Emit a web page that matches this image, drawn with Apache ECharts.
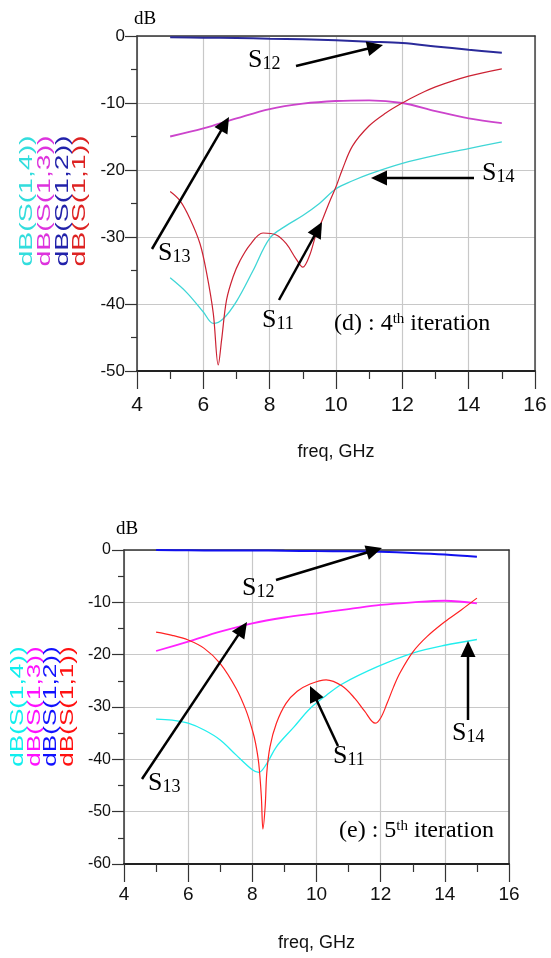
<!DOCTYPE html>
<html>
<head>
<meta charset="utf-8">
<script src="https://cdn.jsdelivr.net/npm/echarts@6/dist/echarts.min.js"></script>
<style>html,body{margin:0;padding:0;background:#fff}#c{width:551px;height:958px}</style>
</head>
<body>
<div id="c"></div>
<script>
// ---------- DATA ----------
const xTicks = [4, 6, 8, 10, 12, 14, 16];
const legendLabels = ['dB(S(1,4))', 'dB(S(1,3))', 'dB(S(1,2))', 'dB(S(1,1))'];

// (d) 4th iteration
const dS12f = [5, 6, 7, 8, 9, 10, 11, 12, 13, 14, 15];
const dS12v = [-0.2, -0.25, -0.3, -0.4, -0.5, -0.65, -0.85, -1.05, -1.55, -2.05, -2.5];
const dS13f = [5, 6, 7, 8, 9, 10, 11, 12, 13, 14, 15];
const dS13v = [-15.0, -13.8, -12.3, -10.9, -10.1, -9.7, -9.6, -10.0, -11.2, -12.3, -13.0];
const dS14f = [5, 5.5, 6, 6.3, 6.6, 7, 7.5, 8, 8.5, 9, 9.5, 10, 10.5, 11, 12, 13, 14, 15];
const dS14v = [-36.1, -38.3, -41.2, -42.9, -42.2, -39.6, -35.0, -30.2, -28.3, -26.8, -25.0, -22.8, -21.6, -20.6, -19.0, -17.8, -16.8, -15.8];
const dS11f = [5, 5.3, 5.6, 5.9, 6.1, 6.3, 6.45, 6.55, 6.7, 6.9, 7.1, 7.4, 7.8, 8.2, 8.5, 8.8, 9.0, 9.2, 9.4, 9.6, 9.8, 10.0, 10.2, 10.5, 11.0, 11.5, 12.0, 12.5, 13, 14, 15];
const dS11v = [-23.2, -24.6, -27.3, -31.0, -35.4, -41.4, -49.1, -45.4, -39.4, -35.9, -33.6, -31.2, -29.4, -29.7, -31.0, -33.3, -34.5, -32.8, -29.6, -27.3, -24.8, -22.5, -19.8, -16.4, -13.4, -11.5, -10.0, -8.7, -7.6, -6.0, -4.9];

// (e) 5th iteration
const eS12f = [5, 6, 7, 8, 9, 10, 11, 12, 13, 14, 15];
const eS12v = [0, -0.05, -0.1, -0.1, -0.15, -0.2, -0.25, -0.35, -0.55, -0.85, -1.3];
const eS13f = [5, 6, 7, 8, 9, 10, 11, 12, 13, 14, 15];
const eS13v = [-19.3, -17.5, -15.6, -14.0, -12.9, -12.1, -11.3, -10.5, -10.0, -9.7, -10.2];
const eS14f = [5, 5.5, 6, 6.5, 7, 7.5, 8, 8.2, 8.45, 8.75, 9.3, 9.8, 10.3, 10.8, 11.9, 13, 14, 15];
const eS14v = [-32.3, -32.5, -33.1, -34.4, -36.3, -39.2, -42.0, -42.5, -40.8, -37.6, -33.8, -30.3, -27.8, -25.6, -22.3, -19.7, -18.2, -17.1];
const eS11f = [5, 5.5, 6, 6.5, 7, 7.5, 7.8, 8.0, 8.1, 8.2, 8.28, 8.33, 8.4, 8.45, 8.55, 8.75, 9.05, 9.4, 9.8, 10.3, 10.8, 11.2, 11.5, 11.83, 12.0, 12.2, 12.4, 12.6, 13, 13.45, 14, 14.5, 15];
const eS11v = [-15.7, -16.3, -17.2, -18.8, -21.7, -26.5, -30.6, -34.4, -36.9, -40.8, -47.0, -53.3, -49.0, -42.6, -37.6, -33.1, -29.3, -27.0, -25.6, -24.8, -26.0, -28.4, -30.8, -33.1, -32.1, -29.3, -26.2, -23.5, -19.5, -16.5, -13.7, -11.5, -9.2];

// ---------- STYLE ----------
const colD = {s14: '#3fd6d6', s13: '#cc44cc', s12: '#2a2a9a', s11: '#cc2233'};
const colE = {s14: '#22eeee', s13: '#ff22ff', s12: '#1111ee', s11: '#ff2222'};
const legColD = ['#33dddd', '#dd33dd', '#2222aa', '#dd2222'];
const legColE = ['#11eeee', '#ff11ff', '#1111ff', '#ff1111'];
const sans = "'Liberation Sans',Arial,sans-serif";
const serif = "'Liberation Serif','Times New Roman',serif";

function pairs(f, v) { return f.map((x, i) => [x, v[i]]); }

function xMain(gi, fs, margin, nameGap) {
  return {
    type: 'value', gridIndex: gi, min: 4, max: 16, interval: 2, position: 'bottom',
    axisLine: {show: true, onZero: false, lineStyle: {color: '#222', width: 2}},
    axisTick: {show: true, length: 18, lineStyle: {color: '#333', width: 1.2}},
    minorTick: {show: true, splitNumber: 2, length: 8, lineStyle: {color: '#333', width: 1.2}},
    splitLine: {show: true, lineStyle: {color: '#c8c8c8', width: 1.2}},
    axisLabel: {fontFamily: sans, fontSize: fs, color: '#111', margin: margin, lineHeight: fs},
    name: 'freq, GHz', nameLocation: 'middle', nameGap: nameGap,
    nameTextStyle: {fontFamily: sans, fontSize: 18, color: '#111', verticalAlign: 'middle'}
  };
}
function xTop(gi) {
  return {type: 'value', gridIndex: gi, min: 4, max: 16, position: 'top',
    axisLine: {show: true, onZero: false, lineStyle: {color: '#333', width: 1.5}},
    axisTick: {show: false}, axisLabel: {show: false}, splitLine: {show: false}};
}
function yMain(gi, min, fs, margin) {
  return {
    type: 'value', gridIndex: gi, min: min, max: 0, interval: 10, position: 'left',
    axisLine: {show: true, onZero: false, lineStyle: {color: '#333', width: 1.5}},
    axisTick: {show: true, length: 12, lineStyle: {color: '#333', width: 1.2}},
    minorTick: {show: true, splitNumber: 2, length: 6, lineStyle: {color: '#333', width: 1.2}},
    splitLine: {show: true, lineStyle: {color: '#c8c8c8', width: 1.2}},
    axisLabel: {fontFamily: sans, fontSize: fs, color: '#111', margin: margin}
  };
}
function yRight(gi, min) {
  return {type: 'value', gridIndex: gi, min: min, max: 0, position: 'right',
    axisLine: {show: true, onZero: false, lineStyle: {color: '#444', width: 1.5}},
    axisTick: {show: false}, axisLabel: {show: false}, splitLine: {show: false}};
}
function line(xi, yi, f, v, color, w) {
  return {type: 'line', xAxisIndex: xi, yAxisIndex: yi, data: pairs(f, v), showSymbol: false,
    smooth: 0.35, lineStyle: {color: color, width: w}, z: 3, silent: true};
}

function arrow(x1, y1, x2, y2) {
  const dx = x2 - x1, dy = y2 - y1, L = Math.hypot(dx, dy), ux = dx / L, uy = dy / L;
  const hl = 16, hw = 7.5;
  const bx = x2 - ux * hl, by = y2 - uy * hl;
  return [
    {type: 'line', shape: {x1: x1, y1: y1, x2: bx + ux * 2, y2: by + uy * 2}, style: {stroke: '#000', lineWidth: 2.5}, z: 10},
    {type: 'polygon', shape: {points: [[x2, y2], [bx - uy * hw, by + ux * hw], [bx + uy * hw, by - ux * hw]]}, style: {fill: '#000'}, z: 10}
  ];
}
const richS = {
  s: {fontFamily: serif, fontSize: 26, lineHeight: 26, verticalAlign: 'bottom', color: '#000'},
  sub: {fontFamily: serif, fontSize: 18, lineHeight: 18, verticalAlign: 'bottom', color: '#000'}
};
function sLabel(x, y, sub) {
  return {type: 'text', x: x, y: y, z: 10,
    style: {text: '{s|S}{sub|' + sub + '}', rich: richS, align: 'left', verticalAlign: 'top'}};
}
const richIt = {
  m: {fontFamily: serif, fontSize: 24, lineHeight: 24, verticalAlign: 'top', color: '#000'},
  sup: {fontFamily: serif, fontSize: 15, lineHeight: 12, verticalAlign: 'top', color: '#000'}
};
function itLabel(x, y, pre, num) {
  return {type: 'text', x: x, y: y, z: 10,
    style: {text: '{m|' + pre + num + '}{sup|th}{m| iteration}', rich: richIt, align: 'left', verticalAlign: 'top'}};
}
function legend(xs, yc, cols, scale) {
  return legendLabels.map((t, i) => ({
    type: 'text', x: xs[i], y: yc, rotation: Math.PI / 2, scaleX: scale, z: 10,
    style: {text: t, fontFamily: sans, fontSize: 18, fill: cols[i], align: 'center', verticalAlign: 'middle'}
  }));
}

const graphics = [].concat(
  [{type: 'text', x: 145, y: 19, style: {text: 'dB', fontFamily: serif, fontSize: 19, fill: '#000', align: 'center', verticalAlign: 'middle'}},
   {type: 'text', x: 127, y: 529, style: {text: 'dB', fontFamily: serif, fontSize: 19, fill: '#000', align: 'center', verticalAlign: 'middle'}}],
  legend([27, 45, 63.5, 80.5], 201, legColD, 1.58),
  legend([18.5, 35, 51.5, 68.5], 706.5, legColE, 1.45),
  // (d)
  arrow(296, 66, 383, 45), sLabel(248, 47.4, '12'),
  arrow(152, 249, 229, 117), sLabel(158, 240, '13'),
  arrow(474, 178, 371, 178), sLabel(482, 160, '14'),
  arrow(279, 300, 322, 222), sLabel(262, 307, '11'),
  [itLabel(334, 312, '(d) : ', '4')],
  // (e)
  arrow(276, 580, 382, 548), sLabel(242, 575, '12'),
  arrow(142, 779, 247, 622), sLabel(148, 770, '13'),
  arrow(338, 746, 310, 686), sLabel(333, 743, '11'),
  arrow(468, 720, 468, 641), sLabel(452, 720, '14'),
  [itLabel(339, 819, '(e) : ', '5')]
);

const option = {
  animation: false,
  backgroundColor: '#fff',
  grid: [
    {left: 137, top: 36, width: 398, height: 335},
    {left: 124, top: 550, width: 385, height: 314}
  ],
  xAxis: [xMain(0, 21, 24, 81), xTop(0), xMain(1, 19, 21, 79), xTop(1)],
  yAxis: [yMain(0, -50, 17, 12), yRight(0, -50), yMain(1, -60, 16, 13), yRight(1, -60)],
  series: [
    line(0, 0, dS12f, dS12v, colD.s12, 2),
    line(0, 0, dS13f, dS13v, colD.s13, 1.8),
    line(0, 0, dS14f, dS14v, colD.s14, 1.3),
    line(0, 0, dS11f, dS11v, colD.s11, 1.2),
    line(2, 2, eS12f, eS12v, colE.s12, 2),
    line(2, 2, eS13f, eS13v, colE.s13, 1.8),
    line(2, 2, eS14f, eS14v, colE.s14, 1.3),
    line(2, 2, eS11f, eS11v, colE.s11, 1.2)
  ],
  graphic: {elements: graphics}
};
const chart = echarts.init(document.getElementById('c'), null, {renderer: 'canvas'});
chart.setOption(option);
</script>
</body>
</html>
